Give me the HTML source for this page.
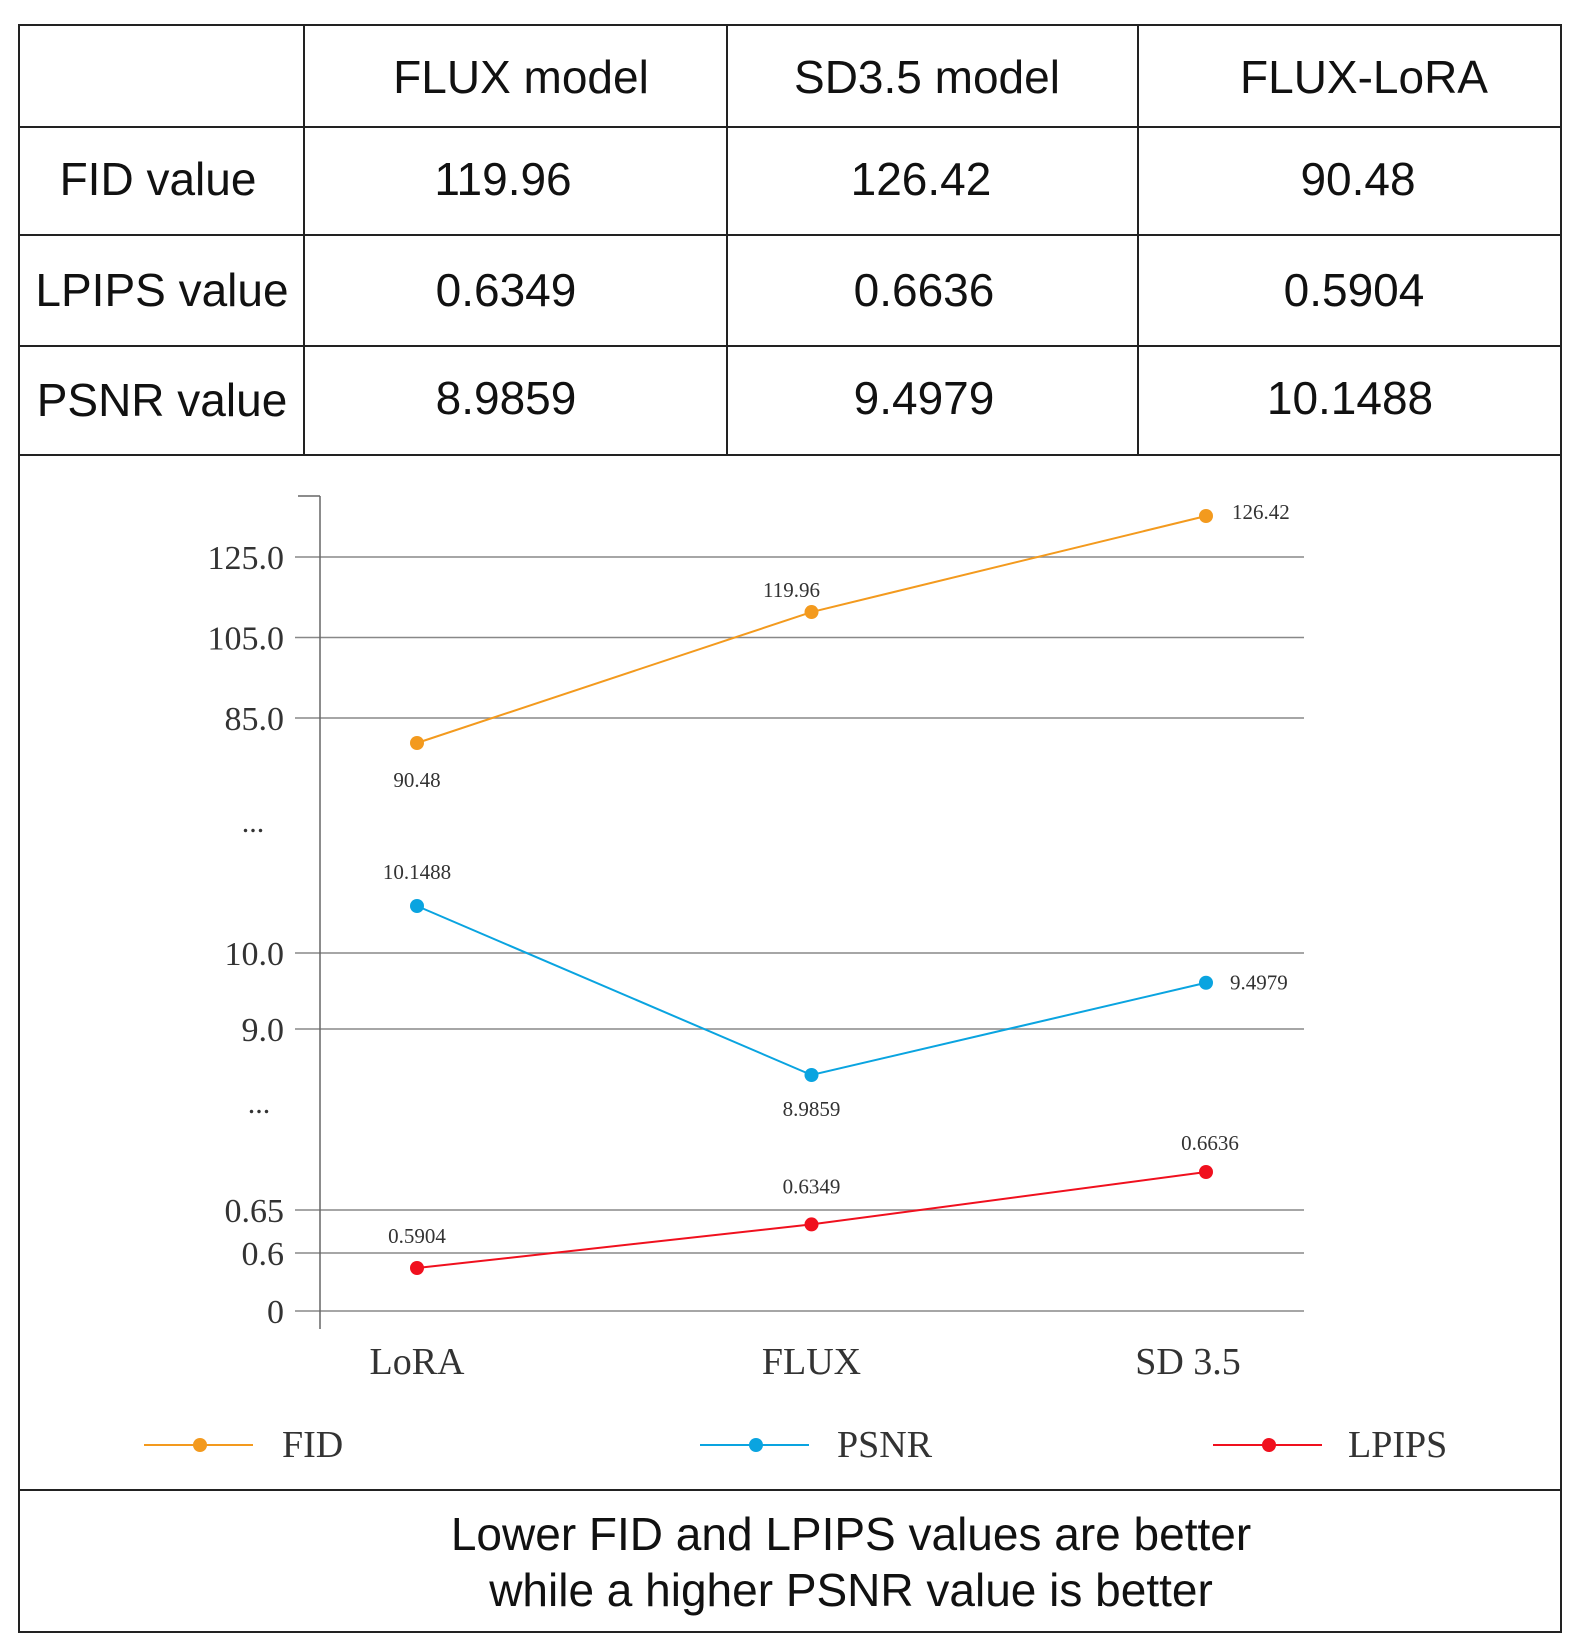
<!DOCTYPE html>
<html><head><meta charset="utf-8"><style>
body{margin:0;background:#fff;}
svg{display:block;}
.s{font-family:"Liberation Sans",sans-serif;fill:#111;}
.f{font-family:"Liberation Serif",serif;fill:#333;}
</style></head><body>
<svg id="c" width="1579" height="1648" viewBox="0 0 1579 1648" xmlns="http://www.w3.org/2000/svg">
<g stroke="#222" stroke-width="2" fill="none">
<rect x="19" y="25" width="1542" height="1607"/>
<line x1="304" y1="25" x2="304" y2="455"/><line x1="727" y1="25" x2="727" y2="455"/><line x1="1138" y1="25" x2="1138" y2="455"/>
<line x1="19" y1="127" x2="1561" y2="127"/><line x1="19" y1="235" x2="1561" y2="235"/><line x1="19" y1="346" x2="1561" y2="346"/><line x1="19" y1="455" x2="1561" y2="455"/><line x1="19" y1="1490" x2="1561" y2="1490"/>
</g>
<g class="s" font-size="46" text-anchor="middle">
<text x="521" y="93">FLUX model</text><text x="927" y="93">SD3.5 model</text><text x="1364" y="93">FLUX-LoRA</text>
<text x="158" y="195">FID value</text><text x="503" y="195">119.96</text><text x="921" y="195">126.42</text><text x="1358" y="195">90.48</text>
<text x="162" y="306">LPIPS value</text><text x="506" y="306">0.6349</text><text x="924" y="306">0.6636</text><text x="1354" y="306">0.5904</text>
<text x="162" y="416">PSNR value</text><text x="506" y="414">8.9859</text><text x="924" y="414">9.4979</text><text x="1350" y="414">10.1488</text>
<text x="851" y="1550">Lower FID and LPIPS values are better</text>
<text x="851" y="1606">while a higher PSNR value is better</text>
</g>
<g id="chart"></g>
</svg>
<script>
const categories=['LoRA','FLUX','SD 3.5'];
const fidValues=[90.48,119.96,126.42];
const psnrValues=[10.1488,8.9859,9.4979];
const lpipsValues=[0.5904,0.6349,0.6636];
const tickLabels=['125.0','105.0','85.0','10.0','9.0','0.65','0.6','0'];
const tickValues=[125,105,85,10,9,0.65,0.6,0];
const tickAxis=['fid','fid','fid','psnr','psnr','lpips','lpips','zero'];

const NS='http://www.w3.org/2000/svg';
const g=document.getElementById('chart');
function mk(t,a,p){const e=document.createElementNS(NS,t);for(const k in a)e.setAttribute(k,a[k]);(p||g).appendChild(e);return e;}
function lin(d0,d1,r0,r1){return v=>r0+(v-d0)*(r1-r0)/(d1-d0);}
function pw(k,d0,d1,r0,r1){const f=v=>Math.pow(v/d1,k);return v=>r0+(f(v)-f(d0))*(r1-r0)/(f(d1)-f(d0));}
const x=i=>lin(0,2,417,1206)(i);
// axis segments (broken y-axis)
const scales={
 fid:lin(85,125,718,557),
 psnr:lin(9,10,1029,953),
 lpips:lin(0.6,0.65,1253,1210),
 zero:v=>1311
};
// series scales (source marks are drawn on non-linear per-series scales)
const seriesScale={
 fid:pw(10,90.48,126.42,743,516),
 psnr:pw(-6,8.9859,10.1488,1075,906),
 lpips:pw(12,0.5904,0.6636,1268,1172)
};
tickValues.forEach((v,i)=>{
 const y=scales[tickAxis[i]](v);
 const l=mk('line',{x1:295,x2:1304,y1:y,y2:y,stroke:'#888','stroke-width':1.5});
 
 
 const t=mk('text',{x:284,y:y+12,'text-anchor':'end','font-size':34,class:'f'});
 t.textContent=tickLabels[i];
 
 
});
const ax=mk('line',{x1:320,x2:320,y1:496,y2:1329,stroke:'#666','stroke-width':1.5});


const tk=mk('line',{x1:298,x2:320,y1:496,y2:496,stroke:'#666','stroke-width':1.5});


[[253,832],[259,1113]].forEach(p=>{const e=mk('text',{x:p[0],y:p[1],'text-anchor':'middle','font-size':30,class:'f'});e.textContent='...';
 
 });
categories.forEach((c,i)=>{
 const t=mk('text',{x:i==2?1188:x(i),y:1374,'text-anchor':'middle','font-size':38,class:'f'});
 t.textContent=c;
 
 
});
const series=[
 {key:'fid',vals:fidValues,color:'#F39A1E',off:[[0,37,'middle'],[-20,-22,'middle'],[26,-4,'start']]},
 {key:'psnr',vals:psnrValues,color:'#0AA4E0',off:[[0,-34,'middle'],[0,34,'middle'],[24,0,'start']]},
 {key:'lpips',vals:lpipsValues,color:'#F0101E',off:[[0,-32,'middle'],[0,-38,'middle'],[4,-29,'middle']]}
];
series.forEach(s=>{
 const sc=seriesScale[s.key];
 const pts=s.vals.map((v,i)=>[x(i),sc(v)]);
 const pl=mk('polyline',{points:pts.map(p=>p.join(',')).join(' '),fill:'none',stroke:s.color,'stroke-width':2});
 
 
 pts.forEach((p,i)=>{
  const c=mk('circle',{cx:p[0],cy:p[1],r:7,fill:s.color});
  
  
  const o=s.off[i];
  const t=mk('text',{x:p[0]+o[0],y:p[1]+o[1]+7,'text-anchor':o[2],'font-size':21,class:'f'});
  t.textContent=s.vals[i];
  
  
 });
});
const legend=[['FID','#F39A1E',144,282],['PSNR','#0AA4E0',700,837],['LPIPS','#F0101E',1213,1348]];
legend.forEach(l=>{
 const lg=mk('g',{});
 
 
 mk('line',{x1:l[2],x2:l[2]+109,y1:1445,y2:1445,stroke:l[1],'stroke-width':2},lg);
 mk('circle',{cx:l[2]+56,cy:1445,r:7,fill:l[1]},lg);
 const t=mk('text',{x:l[3],y:1457,'font-size':38,class:'f'},lg);t.textContent=l[0];
});
</script>
</body></html>
